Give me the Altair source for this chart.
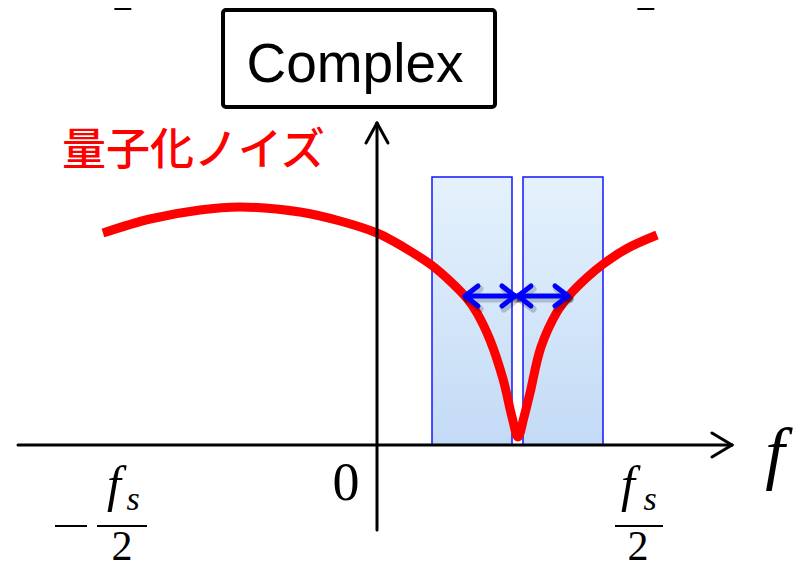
import altair as alt
import pandas as pd

# Diagram units: frequency f (0 at the origin, fs/2 ~ 263), level (0 on the f axis)
X_DOMAIN = [-369, 419]
Y_DOMAIN = [-123, 437]
W, H = 788, 560

# quantisation noise curve
noise_f = [-274, -227, -177, -137, -77, -37, 0, 16, 33, 55, 73, 90, 100, 113, 126,
           135, 141, 147, 153, 164, 180, 193, 210, 225, 250, 280]
noise_level = [212, 226, 235, 238, 233, 224, 212, 204, 194, 179.5, 164, 146.5, 132, 105, 66,
               28, 8, 28, 52, 98, 133, 150.5, 167.5, 180, 196.5, 210]

# signal bands
band_lo = [55, 146]
band_hi = [135, 226]
band_top = [268, 268]

# blue double arrows
arrow_from = [88, 141]
arrow_to = [138, 191]
arrow_level = [149, 149]

# axes
f_axis = (-359, 355)
level_axis = (-85, 322)

xs = alt.Scale(domain=X_DOMAIN, nice=False, zero=False)
ys = alt.Scale(domain=Y_DOMAIN, nice=False, zero=False)


def enc_xy(x="x", y="y"):
    return dict(x=alt.X(f"{x}:Q", scale=xs, axis=None),
                y=alt.Y(f"{y}:Q", scale=ys, axis=None))


# ---- bands
bands = pd.DataFrame({"x": band_lo, "x2": band_hi, "y": [0, 0], "y2": band_top})
grad = {"gradient": "linear", "x1": 0, "x2": 0, "y1": 0, "y2": 1,
        "stops": [{"offset": 0, "color": "#e5f2fc"}, {"offset": 1, "color": "#c3daf6"}]}
band_layer = alt.Chart(bands).mark_rect(fill=grad, stroke="#1414ff", strokeWidth=1.5).encode(
    **enc_xy(), x2="x2:Q", y2="y2:Q")

# ---- noise curve
curve = pd.DataFrame({"x": noise_f, "y": noise_level})
curve_layer = alt.Chart(curve).mark_line(color="#ff0000", strokeWidth=9, interpolate="catmull-rom",
                                         strokeJoin="round").encode(
    **enc_xy(), order="x:Q")

# ---- axes with arrowheads
ah = 20
aw = 12
axes = pd.DataFrame({
    "x":  [f_axis[0], 0, f_axis[1] - ah, f_axis[1] - ah, -aw + 1, aw - 1],
    "y":  [0, level_axis[0], aw, -aw, level_axis[1] - ah, level_axis[1] - ah],
    "x2": [f_axis[1], 0, f_axis[1], f_axis[1], 0, 0],
    "y2": [0, level_axis[1], 0, 0, level_axis[1], level_axis[1]],
})
axes_layer = alt.Chart(axes).mark_rule(color="black", strokeWidth=3, strokeCap="round").encode(
    **enc_xy(), x2="x2:Q", y2="y2:Q")

# ---- blue double arrows
rows = []
hl, hw = 13, 10
for a, b, lv in zip(arrow_from, arrow_to, arrow_level):
    rows.append((a, lv, b, lv))
    rows.append((a, lv, a + hl, lv + hw))
    rows.append((a, lv, a + hl, lv - hw))
    rows.append((b, lv, b - hl, lv + hw))
    rows.append((b, lv, b - hl, lv - hw))
arr = pd.DataFrame(rows, columns=["x", "y", "x2", "y2"])
arr_sh = arr.copy()
arr_sh[["x", "x2"]] += 2
arr_sh[["y", "y2"]] -= 3
shadow_layer = alt.Chart(arr_sh).mark_rule(color="#000000", opacity=0.18, strokeWidth=7, strokeCap="round").encode(
    **enc_xy(), x2="x2:Q", y2="y2:Q")
arrow_layer = alt.Chart(arr).mark_rule(color="#0000ff", strokeWidth=5, strokeCap="round").encode(
    **enc_xy(), x2="x2:Q", y2="y2:Q")

# ---- "Complex" box
box = pd.DataFrame({"x": [-154], "x2": [118], "y": [435], "y2": [338]})
box_layer = alt.Chart(box).mark_rect(fill="white", stroke="black", strokeWidth=4, cornerRadius=3).encode(
    **enc_xy(), x2="x2:Q", y2="y2:Q")
complex_txt = pd.DataFrame({"x": [-22], "y": [363], "t": ["Complex"]})
complex_layer = alt.Chart(complex_txt).mark_text(font="Liberation Sans", fontSize=55, color="black",
                                                 align="center", baseline="alphabetic").encode(
    **enc_xy(), text="t:N")

# ---- red label
label = pd.DataFrame({"x": [-315], "y": [293], "t": ["量子化ノイズ"]})
label_layer = alt.Chart(label).mark_text(font="Noto Sans CJK JP", fontSize=44, fontWeight=500,
                                         color="#ff0000", align="left", baseline="middle").encode(
    **enc_xy(), text="t:N")

# ---- math labels (upright serif)
upright = pd.DataFrame({
    "x": [-31, -255, 261, -254, 269],
    "y": [-55, -115, -115, 435, 435],
    "t": ["0", "2", "2", "2", "2"],
    "s": [54, 42, 42, 42, 42],
})
upright_layer = alt.Chart(upright).mark_text(font="Liberation Serif", color="black",
                                             align="center", baseline="alphabetic").encode(
    **enc_xy(), text="t:N", size=alt.Size("s:Q", scale=None, legend=None))

# ---- math labels (italic serif)
italic = pd.DataFrame({
    "x": [398, -263, -244, 251, 273],
    "y": [-31, -56, -65, -56, -65],
    "t": ["f", "f", "s", "f", "s"],
    "s": [70, 50, 34, 50, 34],
})
italic_layer = alt.Chart(italic).mark_text(font="Liberation Serif", fontStyle="italic", color="black",
                                           align="center", baseline="alphabetic").encode(
    **enc_xy(), text="t:N", size=alt.Size("s:Q", scale=None, legend=None))

# ---- fraction bars and minus sign
bars = pd.DataFrame({"x": [-322, -280, 238], "x2": [-290, -230, 286], "y": [-81, -81, -81]})
bars_layer = alt.Chart(bars).mark_rule(color="black", strokeWidth=2).encode(
    **enc_xy(), x2="x2:Q", y2="y:Q")

chart = alt.layer(
    band_layer, curve_layer, axes_layer, shadow_layer, arrow_layer,
    box_layer, complex_layer, label_layer, upright_layer, italic_layer, bars_layer,
).properties(
    width=W, height=H, padding=0, autosize=alt.AutoSizeParams(type="none"), background="white"
).configure_view(stroke=None)

chart.save("out.html", embed_options={"renderer": "svg", "actions": False})
